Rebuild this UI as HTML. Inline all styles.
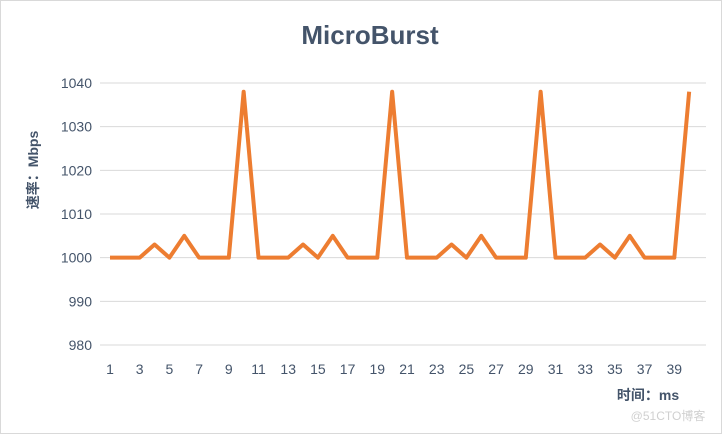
<!DOCTYPE html>
<html><head><meta charset="utf-8"><style>
html,body{margin:0;padding:0;background:#fff;}
svg{display:block;font-family:"Liberation Sans","Noto Sans CJK SC",sans-serif;}
</style></head><body>
<svg id="chart" width="722" height="434">
<rect x="0.5" y="0.5" width="721" height="433" fill="#fff" stroke="#d9d9d9"/>
<text x="370" y="44" text-anchor="middle" font-size="26" font-weight="bold" fill="#44546a">MicroBurst</text>
<g id="grid"></g><g id="ylabels"></g><g id="xlabels"></g>
<path id="line" fill="none" stroke="#ed7d31" stroke-width="4" stroke-linejoin="round"/>
<text transform="translate(38,170) rotate(-90)" text-anchor="middle" font-size="14" font-weight="bold" fill="#44546a">速率：Mbps</text>
<text x="648" y="400" text-anchor="middle" font-size="14" font-weight="bold" fill="#44546a">时间：ms</text>
<text x="668" y="420" text-anchor="middle" font-size="12" fill="#d0d0d0">@51CTO博客</text>
</svg>
<script>
const categories = [];
for (let i = 1; i <= 40; i++) categories.push(i);
const values = [1000,1000,1000,1003,1000,1005,1000,1000,1000,1038,
                1000,1000,1000,1003,1000,1005,1000,1000,1000,1038,
                1000,1000,1000,1003,1000,1005,1000,1000,1000,1038,
                1000,1000,1000,1003,1000,1005,1000,1000,1000,1038];
const yTicks = [980,990,1000,1010,1020,1030,1040];
const xTickLabels = [1,3,5,7,9,11,13,15,17,19,21,23,25,27,29,31,33,35,37,39];
const NS = "http://www.w3.org/2000/svg";
const x = c => 110 + (c - 1) * 14.85;
const y = v => 345 - (v - 980) * 4.367;
const grid = document.getElementById('grid'), yl = document.getElementById('ylabels'), xl = document.getElementById('xlabels');
yTicks.forEach(t => {
  const l = document.createElementNS(NS, 'line');
  l.setAttribute('x1', 100); l.setAttribute('x2', 706);
  l.setAttribute('y1', y(t)); l.setAttribute('y2', y(t));
  l.setAttribute('stroke', '#d9d9d9'); l.setAttribute('stroke-width', 1);
  
  
  grid.appendChild(l);
  const tx = document.createElementNS(NS, 'text');
  tx.setAttribute('x', 92); tx.setAttribute('y', y(t) + 5);
  tx.setAttribute('text-anchor', 'end'); tx.setAttribute('font-size', 14); tx.setAttribute('fill', '#44546a');
  tx.textContent = t;
  
  
  yl.appendChild(tx);
});
xTickLabels.forEach(c => {
  const tx = document.createElementNS(NS, 'text');
  tx.setAttribute('x', x(c)); tx.setAttribute('y', 374);
  tx.setAttribute('text-anchor', 'middle'); tx.setAttribute('font-size', 14); tx.setAttribute('fill', '#44546a');
  tx.textContent = c;
  
  
  xl.appendChild(tx);
});
document.getElementById('line').setAttribute('d', values.map((v, i) => (i ? 'L' : 'M') + x(categories[i]) + ',' + y(v)).join(' '));
</script>
</body></html>
